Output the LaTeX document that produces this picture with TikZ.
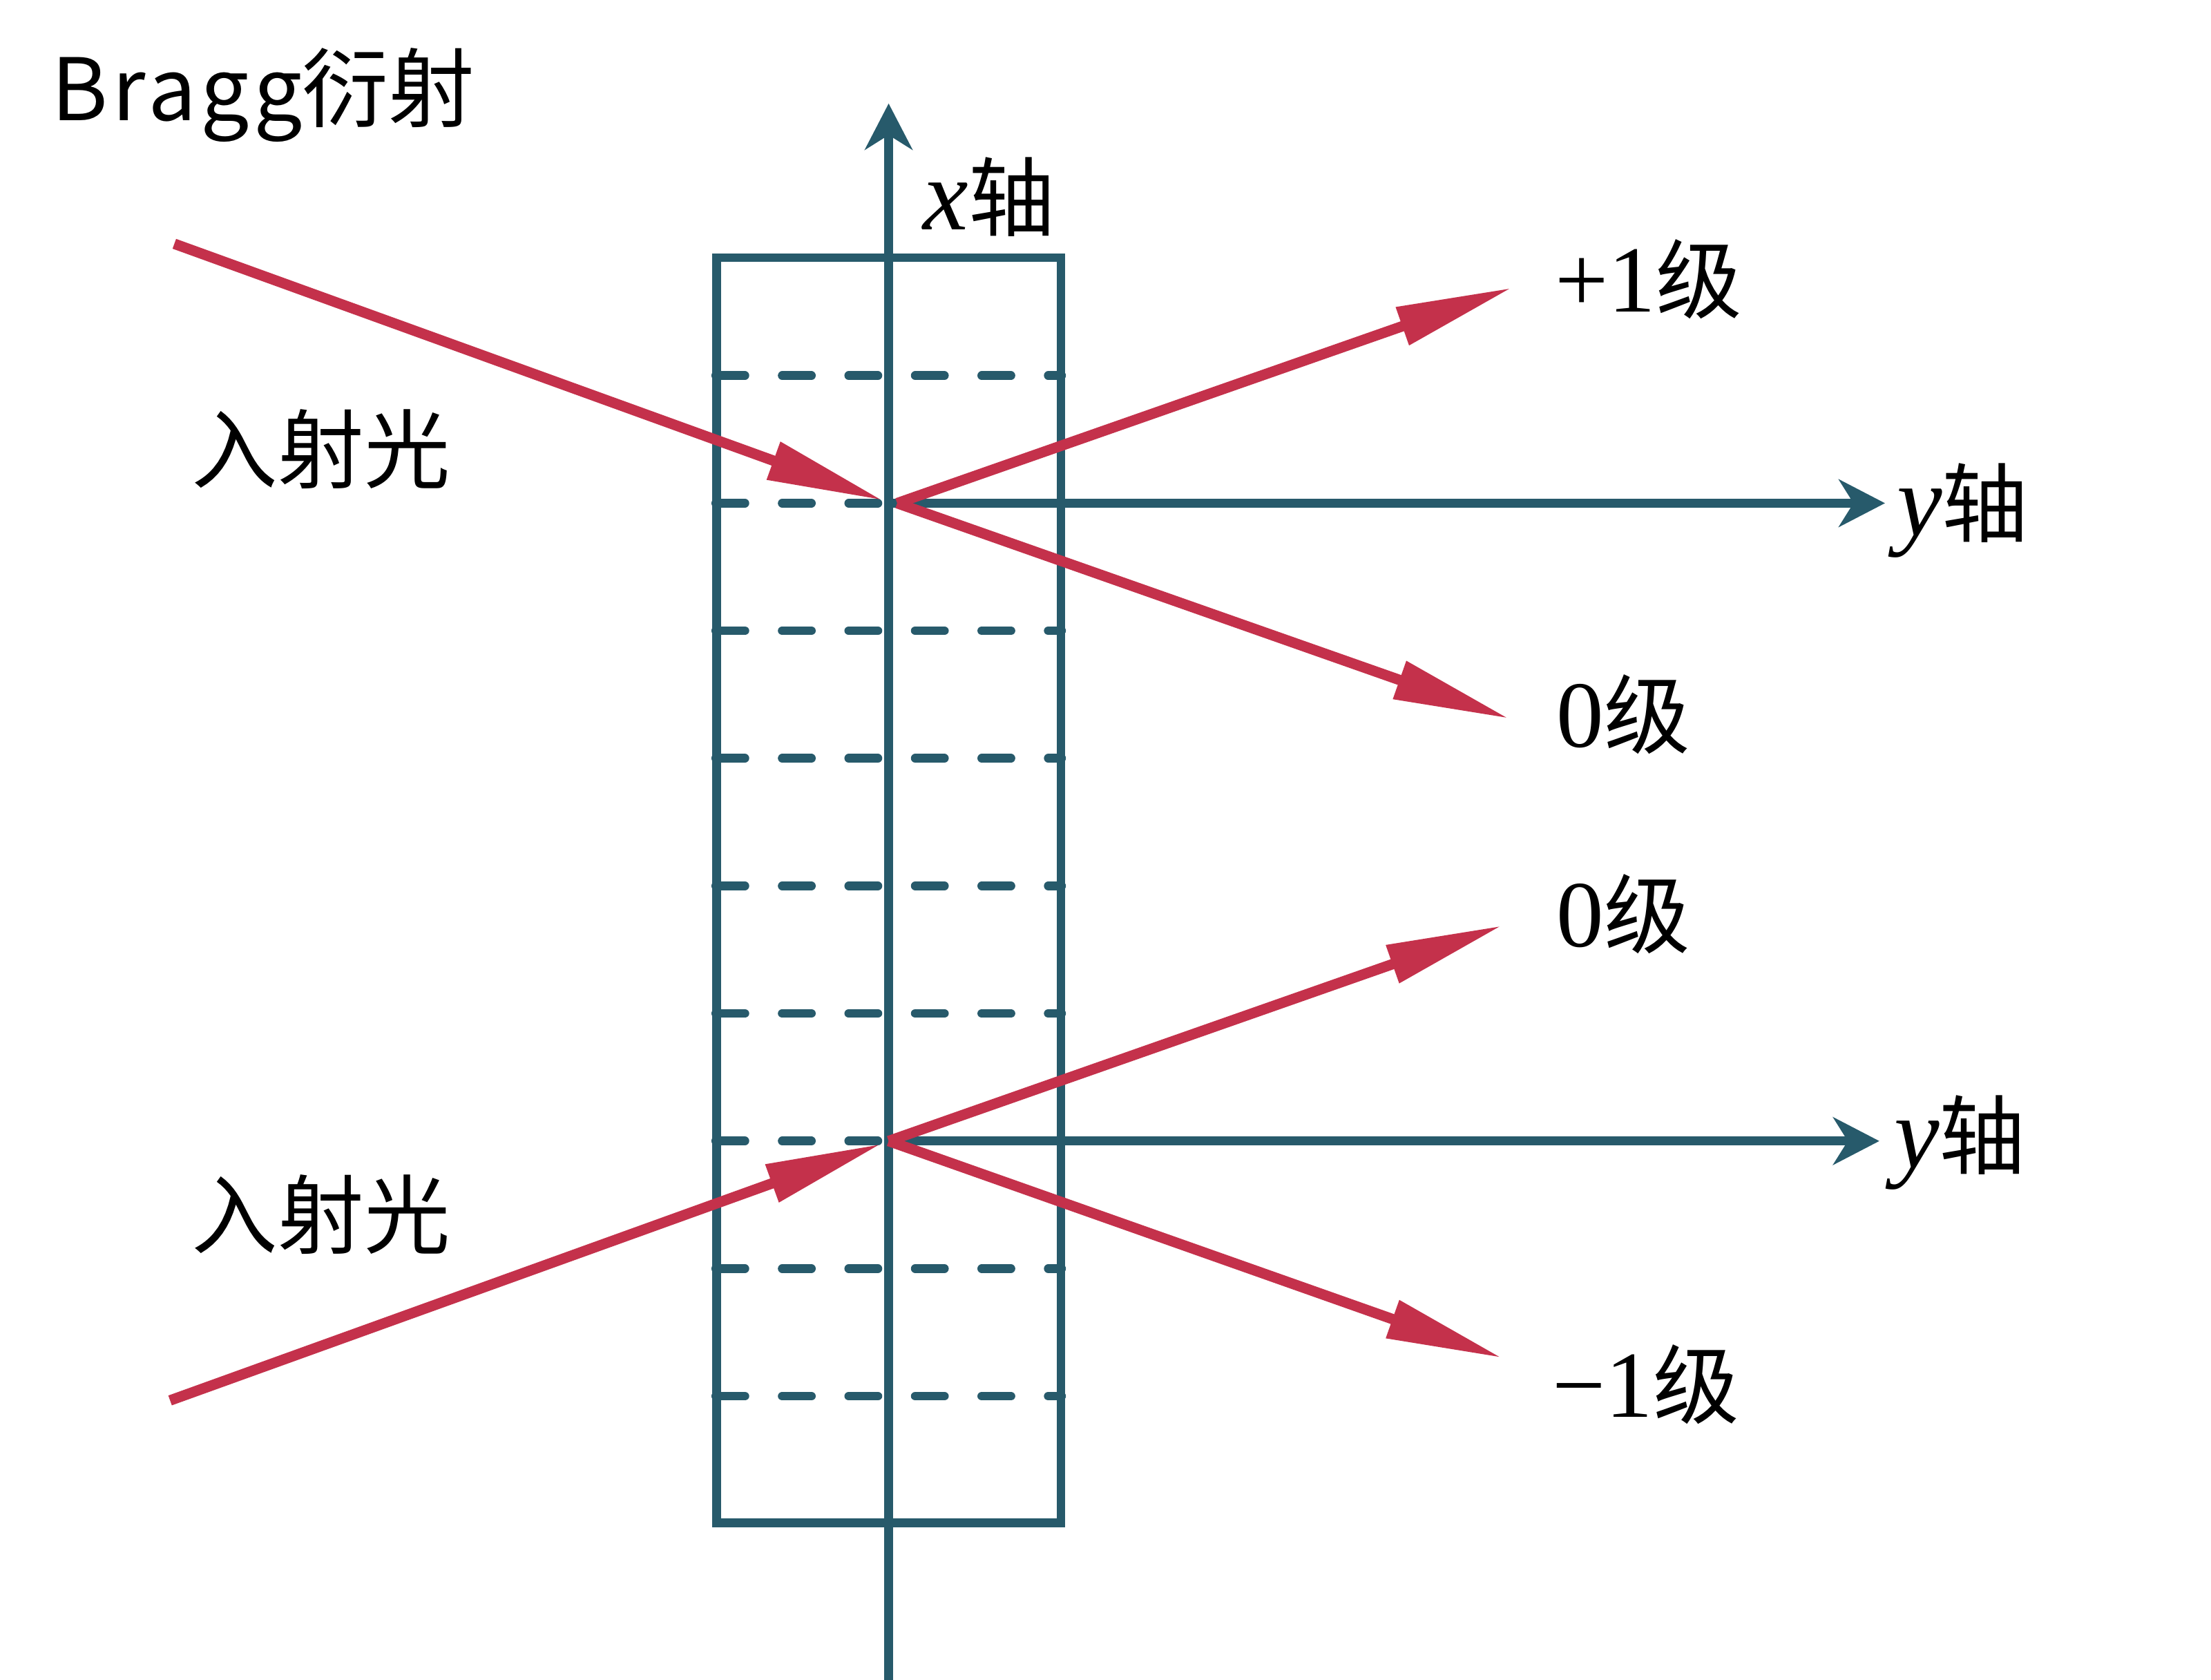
\documentclass[tikz,border=0pt]{standalone}
\usepackage{fontspec}
\setmainfont{Noto Sans CJK SC}
\newfontfamily\cjk{Noto Sans CJK SC}
\newfontfamily\cjkwide[LetterSpace=5]{Noto Sans CJK SC}
\newfontfamily\serifm{Liberation Serif}
\usetikzlibrary{arrows.meta}
\definecolor{axisblue}{HTML}{275A6B}
\definecolor{rayred}{HTML}{C4314B}
\newcommand{\vx}{{\fontsize{42pt}{44pt}\serifm\itshape x}}
\newcommand{\vy}{{\fontsize{42pt}{44pt}\serifm\itshape y}}
\newcommand{\nm}[1]{{\fontsize{39pt}{44pt}\serifm #1}}
\begin{document}
\begin{tikzpicture}[x=0.02052cm,y=-0.02052cm,
  axisline/.style={draw=axisblue,line width=3.6pt},
  axisarrow/.style={axisline,-{Stealth[length=19pt,width=19.5pt,inset=6pt]}},
  layerline/.style={draw=axisblue,line width=3.6pt,line cap=round,dash pattern=on 12pt off 15.4pt},
  ray/.style={draw=rayred,line width=4.3pt,-{Triangle[length=48pt,width=15.5pt]}},
  lbl/.style={inner sep=0pt,font=\cjk\fontsize{35.5pt}{40pt}\selectfont,anchor=base west}]
\useasboundingbox (0,0) rectangle (1560,1185);
% reference points
\coordinate (O1) at (627,355);
\coordinate (O1r) at (633,355);
\coordinate (O2) at (627,805);
\coordinate (xb) at (627,1188);
\coordinate (xt) at (627,73);
\coordinate (y1) at (1330,355);
\coordinate (y2) at (1326,805);
\coordinate (inA) at (123,172);
\coordinate (inAend) at (623,353);
\coordinate (inB) at (120,988);
\coordinate (inBend) at (622,807);
\coordinate (p1) at (1067,203);
\coordinate (z1) at (1065,507);
\coordinate (z2) at (1060,653);
\coordinate (m1) at (1060,958);
% layer lines
\foreach \yy in {265,355,445,535,625,715,805,895,985}
  \draw[layerline] (505,\yy) -- (749,\yy);
% crystal
\node[draw=axisblue,line width=3.6pt,inner sep=0pt,outer sep=0pt,
      minimum width=141.9pt,minimum height=521.2pt] (box) at (627,628) {};
% axes
\draw[axisarrow] (xb) -- (xt);
\draw[axisarrow] (O1) -- (y1);
\draw[axisarrow] (O2) -- (y2);
% rays
\draw[ray] (inA) -- (inAend);
\draw[ray] (O1r) -- (p1);
\draw[ray] (O1r) -- (z1);
\draw[ray] (inB) -- (inBend);
\draw[ray] (O2) -- (z2);
\draw[ray] (O2) -- (m1);
% labels
\node[lbl] (title) at (36,85) {{\cjkwide Bragg}衍射};
\node[lbl] (inc1) at (135,340) {入射光};
\node[lbl] (inc2) at (135,880) {入射光};
\node[lbl] (xl) at (651,162) {\vx 轴};
\node[lbl] (yl1) at (1338,378) {\vy 轴};
\node[lbl] (yl2) at (1336,824) {\vy 轴};
\node[lbl] (lp1) at (1097,220) {\nm{+1}级};
\node[lbl] (l01) at (1098,527) {\nm{0}级};
\node[lbl] (l02) at (1098,668) {\nm{0}级};
\node[lbl] (lm1) at (1095,1000) {\nm{−1}级};
\end{tikzpicture}
\end{document}
